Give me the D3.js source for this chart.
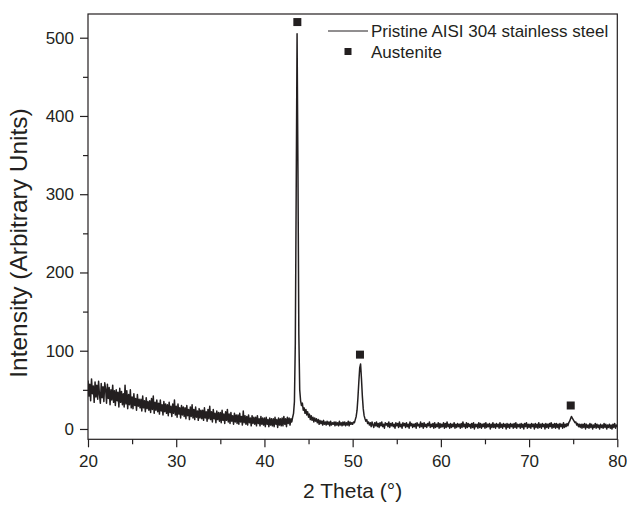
<!DOCTYPE html>
<html>
<head>
<meta charset="utf-8">
<script src="https://cdn.jsdelivr.net/npm/d3@7"></script>
<style>
  body { margin: 0; background: #fff; }
  text { font-family: "Liberation Sans", Arial, sans-serif; fill: #231f20; }
</style>
</head>
<body>
<svg id="chart" width="627" height="505"></svg>
<script>
// XRD pattern, sampled every 0.1 degree from 20 to 80 (2 theta)
const THETA_START = 20;
const THETA_STEP = 0.1;
const intensity = [
  62, 42, 57, 36, 64, 45, 55, 34, 60, 41,   // 20
  56, 38, 61, 44, 33, 58, 40, 54, 35, 59,   // 21
  51, 33, 57, 39, 53, 31, 50, 37, 56, 34,   // 22
  49, 30, 50, 36, 47, 28, 52, 34, 48, 31,   // 23
  45, 28, 56, 32, 49, 26, 44, 31, 50, 27,   // 24
  41, 26, 45, 30, 39, 24, 44, 29, 38, 27,   // 25
  38, 23, 42, 27, 36, 22, 40, 26, 35, 24,   // 26
  36, 21, 39, 25, 42, 20, 34, 24, 37, 22,   // 27
  33, 19, 37, 23, 31, 18, 35, 22, 32, 20,   // 28
  31, 17, 34, 21, 29, 16, 32, 20, 37, 18,   // 29
  29, 15, 32, 19, 27, 14, 30, 18, 28, 16,   // 30
  27, 13, 30, 17, 25, 12, 28, 16, 31, 14,   // 31
  25, 12, 28, 15, 23, 11, 26, 14, 24, 13,   // 32
  24, 11, 27, 14, 22, 10, 25, 13, 29, 12,   // 33
  22, 9, 25, 13, 20, 8, 23, 12, 21, 10,     // 34
  21, 8, 24, 11, 19, 7, 22, 11, 25, 9,      // 35
  19, 7, 21, 10, 17, 6, 20, 9, 18, 7,       // 36
  18, 6, 20, 9, 16, 5, 23, 8, 17, 6,        // 37
  16, 5, 18, 8, 14, 4, 17, 7, 15, 6,        // 38
  15, 4, 17, 7, 13, 4, 16, 6, 14, 5,        // 39
  14, 3, 15, 6, 12, 3, 14, 5, 13, 4,        // 40
  13, 3, 15, 6, 12, 2, 14, 5, 13, 4,        // 41
  14, 4, 16, 6, 13, 3, 15, 7, 14, 5,        // 42
  13, 9, 15, 20, 35, 110, 300, 505, 330, 120, // 43
  50, 36, 30, 33, 24, 27, 20, 25, 18, 22,   // 44
  15, 19, 12, 17, 11, 15, 9, 14, 10, 13,    // 45
  8, 12, 6, 11, 7, 10, 5, 11, 6, 9,         // 46
  5, 10, 6, 9, 4, 10, 5, 8, 6, 9,           // 47
  4, 9, 5, 8, 4, 10, 5, 8, 4, 9,            // 48
  5, 9, 4, 8, 5, 10, 4, 9, 6, 8,            // 49
  6, 9, 8, 12, 16, 24, 40, 60, 78, 83,      // 50
  64, 42, 26, 17, 13, 10, 12, 7, 9, 5,      // 51
  8, 3, 9, 5, 2, 8, 4, 9, 3, 7,             // 52
  2, 8, 4, 9, 3, 6, 1, 8, 5, 7,             // 53
  3, 9, 2, 7, 4, 8, 3, 6, 1, 8,             // 54
  4, 7, 2, 9, 3, 6, 1, 8, 4, 7,             // 55
  2, 8, 3, 6, 1, 9, 4, 7, 2, 6,             // 56
  3, 7, 1, 8, 4, 6, 2, 9, 3, 7,             // 57
  1, 8, 3, 6, 2, 7, 4, 9, 2, 6,             // 58
  3, 7, 1, 8, 2, 6, 3, 8, 1, 7,             // 59
  2, 6, 3, 8, 1, 7, 2, 9, 3, 6,             // 60
  1, 7, 2, 6, 3, 8, 1, 6, 2, 7,             // 61
  3, 6, 1, 7, 2, 9, 3, 6, 1, 8,             // 62
  2, 7, 3, 6, 1, 7, 2, 8, 0, 6,             // 63
  3, 6, 1, 8, 2, 7, 1, 6, 3, 7,             // 64
  1, 8, 2, 6, 3, 7, 0, 6, 2, 8,             // 65
  2, 6, 1, 7, 3, 6, 1, 8, 2, 6,             // 66
  1, 7, 3, 6, 0, 7, 2, 6, 1, 7,             // 67
  3, 6, 1, 7, 2, 8, 1, 6, 3, 6,             // 68
  1, 7, 2, 6, 0, 7, 3, 8, 1, 6,             // 69
  2, 6, 1, 7, 3, 6, 0, 7, 2, 6,             // 70
  1, 8, 2, 6, 1, 7, 3, 6, 0, 7,             // 71
  2, 6, 1, 7, 3, 8, 1, 6, 2, 7,             // 72
  1, 7, 2, 6, 0, 7, 3, 6, 1, 8,             // 73
  2, 6, 3, 7, 4, 8, 10, 13, 16, 14,         // 74
  12, 10, 8, 9, 5, 7, 3, 6, 2, 6,           // 75
  1, 6, 2, 7, 0, 6, 2, 5, 1, 7,             // 76
  2, 6, 0, 5, 2, 7, 1, 6, 2, 5,             // 77
  0, 6, 2, 5, 1, 7, 2, 6, 0, 5,             // 78
  2, 6, 1, 5, 0, 6, 2, 7, 1, 5,             // 79
  3                                          // 80
];

// Austenite reflections (marker positions)
const peakTheta = [43.73, 50.83, 74.72];
const peakMarker = [520, 95, 30];

const xTicks = [20, 30, 40, 50, 60, 70, 80];
const xMinorTicks = [25, 35, 45, 55, 65, 75];
const yTicks = [0, 100, 200, 300, 400, 500];
const yMinorTicks = [50, 150, 250, 350, 450];

const seriesLabel = 'Pristine AISI 304 stainless steel';
const markerLabel = 'Austenite';
const xTitle = '2 Theta (\u00b0)';
const yTitle = 'Intensity (Arbitrary Units)';

const INK = '#231f20';
const plotLeft = 88, plotRight = 617.3, plotTop = 14, plotBottom = 439.3;

const svg = d3.select('#chart');

const x = d3.scaleLinear().domain([20, 80]).range([plotLeft, plotRight]);
const y = d3.scaleLinear().domain([-13.2, 530.3]).range([plotBottom, plotTop]);

const points = intensity.map((v, i) => [THETA_START + i * THETA_STEP, v]);

// trace
svg.append('defs').append('clipPath').attr('id', 'plotClip')
  .append('rect')
  .attr('x', plotLeft).attr('y', plotTop)
  .attr('width', plotRight - plotLeft).attr('height', plotBottom - plotTop);

svg.append('path')
  .datum(points)
  .attr('clip-path', 'url(#plotClip)')
  .attr('fill', 'none')
  .attr('stroke', INK)
  .attr('stroke-width', 1.5)
  .attr('stroke-linejoin', 'round')
  .attr('d', d3.line().x(d => x(d[0])).y(d => y(d[1])));

// markers
const MARK = 8;
svg.selectAll('rect.peak')
  .data(peakTheta)
  .enter().append('rect')
  .attr('class', 'peak')
  .attr('x', d => x(d) - MARK / 2)
  .attr('y', (d, i) => y(peakMarker[i]) - MARK / 2)
  .attr('width', MARK).attr('height', MARK)
  .attr('fill', INK);

// axes
const styleAxis = g => {
  g.select('.domain').remove();
  g.selectAll('line').attr('stroke', INK).attr('stroke-width', 1.2);
  g.selectAll('text').attr('font-size', 17).attr('fill', INK)
    .attr('font-family', '"Liberation Sans", Arial, sans-serif');
};

svg.append('g')
  .attr('transform', `translate(0,${plotBottom})`)
  .call(d3.axisBottom(x).tickValues(xTicks).tickSize(8).tickPadding(8).tickFormat(d3.format('d')))
  .call(styleAxis);
svg.append('g')
  .attr('transform', `translate(0,${plotBottom})`)
  .call(d3.axisBottom(x).tickValues(xMinorTicks).tickSize(5).tickFormat(''))
  .call(styleAxis);

svg.append('g')
  .attr('transform', `translate(${plotLeft},0)`)
  .call(d3.axisLeft(y).tickValues(yTicks).tickSize(8).tickPadding(6).tickFormat(d3.format('d')))
  .call(styleAxis);
svg.append('g')
  .attr('transform', `translate(${plotLeft},0)`)
  .call(d3.axisLeft(y).tickValues(yMinorTicks).tickSize(5).tickFormat(''))
  .call(styleAxis);

// frame
svg.append('rect')
  .attr('x', plotLeft).attr('y', plotTop)
  .attr('width', plotRight - plotLeft).attr('height', plotBottom - plotTop)
  .attr('fill', 'none').attr('stroke', INK).attr('stroke-width', 1.2);

// axis titles
svg.append('text')
  .attr('x', (plotLeft + plotRight) / 2).attr('y', 498)
  .attr('text-anchor', 'middle').attr('font-size', 21)
  .text(xTitle);

svg.append('text')
  .attr('transform', 'translate(27,243) rotate(-90)')
  .attr('text-anchor', 'middle').attr('font-size', 24.5)
  .text(yTitle);

// legend
const legend = svg.append('g');
legend.append('line')
  .attr('x1', 328).attr('x2', 368).attr('y1', 31).attr('y2', 31)
  .attr('stroke', INK).attr('stroke-width', 1);
legend.append('text')
  .attr('x', 371).attr('y', 37).attr('font-size', 17)
  .text(seriesLabel);
legend.append('rect')
  .attr('x', 348 - 3.5).attr('y', 51.5 - 3.5).attr('width', 7).attr('height', 7)
  .attr('fill', INK);
legend.append('text')
  .attr('x', 371).attr('y', 57.5).attr('font-size', 17)
  .text(markerLabel);
</script>
</body>
</html>
